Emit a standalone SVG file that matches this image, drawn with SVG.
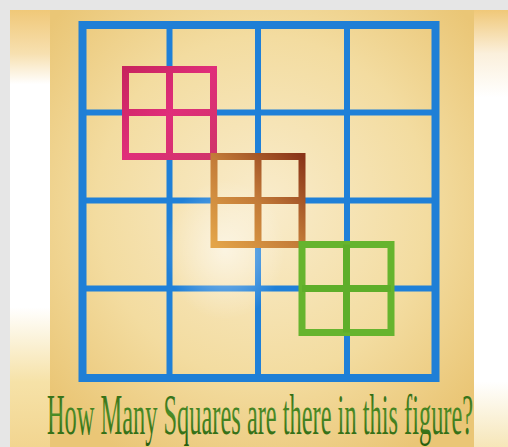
<svg xmlns="http://www.w3.org/2000/svg" width="508" height="447" viewBox="0 0 508 447">
<defs>
<radialGradient id="panelG" cx="0.5" cy="0.45" r="0.65">
<stop offset="0" stop-color="#f9eccc"/>
<stop offset="0.6" stop-color="#f3dca0"/>
<stop offset="1" stop-color="#eac676"/>
</radialGradient>
<linearGradient id="leftG" x1="0" y1="0" x2="0" y2="1">
<stop offset="0" stop-color="#f0c878"/>
<stop offset="0.1" stop-color="#f7e0b0"/>
<stop offset="0.17" stop-color="#ffffff"/>
<stop offset="0.68" stop-color="#ffffff"/>
<stop offset="0.85" stop-color="#f6e2a8"/>
<stop offset="1" stop-color="#f2d590"/>
</linearGradient>
<linearGradient id="rightG" x1="0" y1="0" x2="0" y2="1">
<stop offset="0" stop-color="#f0c878"/>
<stop offset="0.1" stop-color="#fbf0dc"/>
<stop offset="0.2" stop-color="#ffffff"/>
<stop offset="0.85" stop-color="#ffffff"/>
<stop offset="1" stop-color="#f6e6b8"/>
</linearGradient>
<radialGradient id="glow" cx="0.5" cy="0.5" r="0.5">
<stop offset="0" stop-color="#ffffff" stop-opacity="0.55"/>
<stop offset="1" stop-color="#ffffff" stop-opacity="0"/>
</radialGradient>
<linearGradient id="brownG" gradientUnits="userSpaceOnUse" x1="214" y1="244" x2="302" y2="156">
<stop offset="0" stop-color="#e3a448"/>
<stop offset="0.5" stop-color="#c27a38"/>
<stop offset="1" stop-color="#8a3418"/>
</linearGradient>
<linearGradient id="pinkG" gradientUnits="userSpaceOnUse" x1="125" y1="69" x2="213" y2="157">
<stop offset="0" stop-color="#c8245e"/>
<stop offset="0.5" stop-color="#e02e7a"/>
<stop offset="1" stop-color="#d0346a"/>
</linearGradient>
<linearGradient id="textG" x1="0" y1="0" x2="0" y2="1">
<stop offset="0" stop-color="#265e0e"/>
<stop offset="0.5" stop-color="#4c8c26"/>
<stop offset="1" stop-color="#245c0c"/>
</linearGradient>
<style>
.outer{fill:none;stroke:#1f7fd6;stroke-width:8}
.inner{stroke:#1f80d8;stroke-width:6}
.sq{fill:none;stroke-width:7}
.title{font-family:"Liberation Serif","Times New Roman",serif;font-size:58px;fill:url(#textG)}
</style>
</defs>
<rect x="0" y="0" width="508" height="447" fill="#e6e6e6"/>
<rect x="10" y="10" width="40" height="437" fill="url(#leftG)"/>
<rect x="474" y="10" width="34" height="437" fill="url(#rightG)"/>
<rect x="50" y="10" width="424" height="437" fill="url(#panelG)"/>
<g id="grid">
<line class="inner" x1="169.5" y1="25" x2="169.5" y2="378"/>
<line class="inner" x1="258" y1="25" x2="258" y2="378"/>
<line class="inner" x1="347" y1="25" x2="347" y2="378"/>
<line class="inner" x1="82.5" y1="112.5" x2="435.5" y2="112.5"/>
<line class="inner" x1="82.5" y1="200.5" x2="435.5" y2="200.5"/>
<line class="inner" x1="82.5" y1="288.5" x2="435.5" y2="288.5"/>
<rect class="outer" x="82.5" y="25" width="353" height="353"/>
</g>
<ellipse cx="225" cy="250" rx="60" ry="70" fill="url(#glow)"/>
<g id="pink-square">
<rect class="sq" x="125.5" y="69.5" width="88" height="87" stroke="url(#pinkG)"/>
<line class="sq" x1="169.5" y1="69.5" x2="169.5" y2="156.5" stroke="url(#pinkG)"/>
<line class="sq" x1="125.5" y1="112.5" x2="213.5" y2="112.5" stroke="url(#pinkG)"/>
</g>
<g id="brown-square">
<rect class="sq" x="214" y="156.5" width="88" height="88" stroke="url(#brownG)"/>
<line class="sq" x1="258" y1="156.5" x2="258" y2="244.5" stroke="url(#brownG)"/>
<line class="sq" x1="214" y1="200.5" x2="302" y2="200.5" stroke="url(#brownG)"/>
</g>
<g id="green-square">
<rect class="sq" x="302" y="244.5" width="89" height="88" stroke="#66b42e"/>
<line class="sq" x1="346.5" y1="244.5" x2="346.5" y2="332.5" stroke="#5eae2a"/>
<line class="sq" x1="302" y1="288.5" x2="391" y2="288.5" stroke="#5eae2a"/>
</g>
<text class="title" transform="translate(47 434) scale(0.43 1)" x="0" y="0" textLength="991" lengthAdjust="spacingAndGlyphs">How Many Squares are there in this figure?</text>
</svg>
